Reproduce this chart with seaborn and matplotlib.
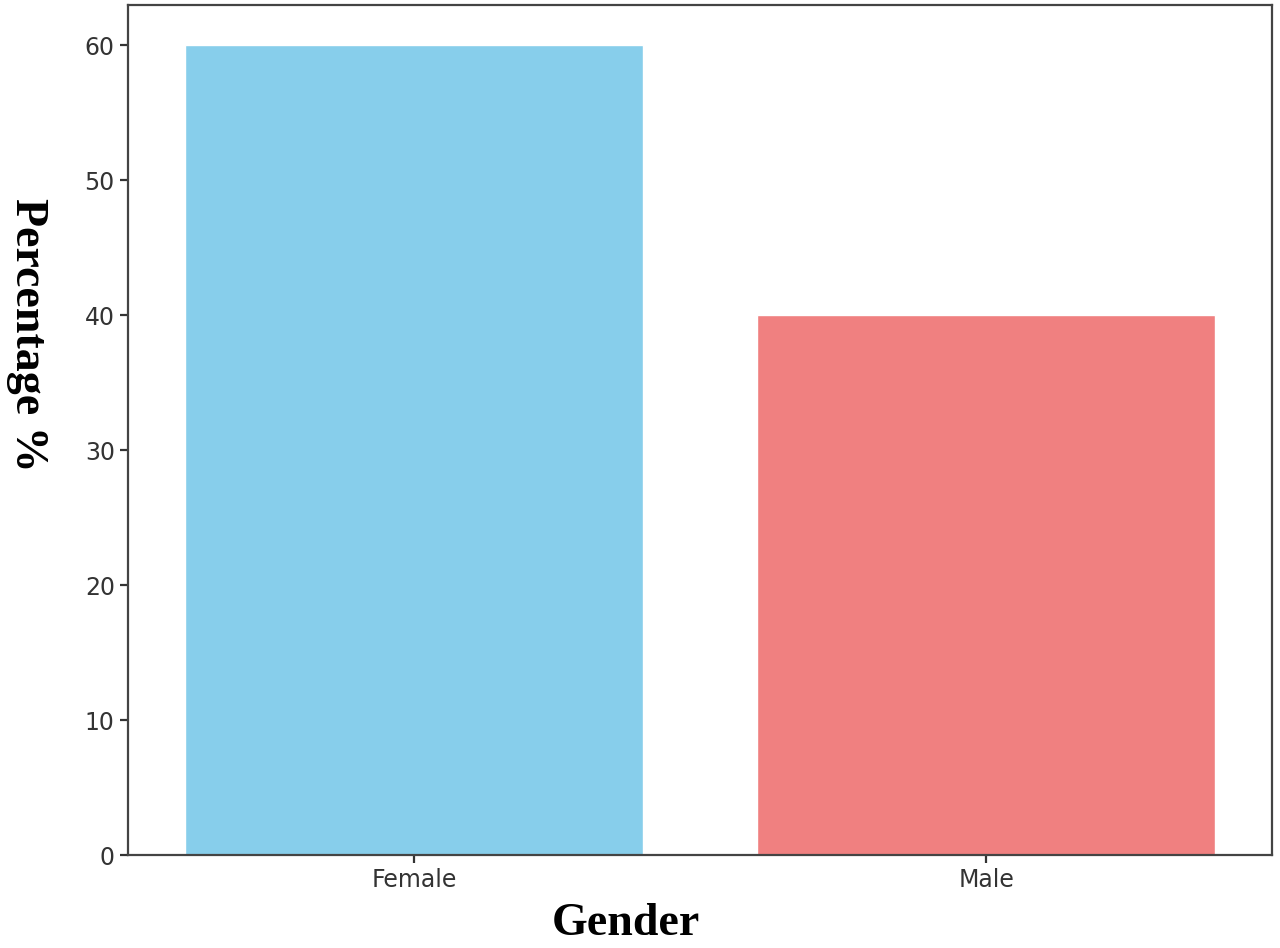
import matplotlib
matplotlib.use("Agg")
import matplotlib.pyplot as plt
import seaborn as sns
import pandas as pd

# data
genders = ["Female", "Male"]
percentages = [60, 40]
bar_colors = ["skyblue", "lightcoral"]

df = pd.DataFrame({"Gender": genders, "Percentage": percentages})

sns.set_style("ticks")
plt.rcParams["font.family"] = ["DejaVu Sans"]

fig = plt.figure(figsize=(12.8, 9.48), dpi=100)
ax = fig.add_axes([0.1, 0.098, 0.894, 0.897])

sns.barplot(data=df, x="Gender", y="Percentage", hue="Gender",
            palette=bar_colors, width=0.8, saturation=1, legend=False, ax=ax)

ax.set_xlim(-0.5, 1.5)
ax.set_ylim(0, 63)

for side in ["top", "right", "left", "bottom"]:
    ax.spines[side].set_visible(True)
    ax.spines[side].set_color("#444444")
    ax.spines[side].set_linewidth(1.6)

ax.tick_params(axis="both", labelsize=17, colors="#333333", length=6, width=1.6)

# axis labels (bold serif, y label reads top to bottom)
ax.set_xlabel("Gender", fontsize=33, fontweight="bold",
              family="Liberation Serif", color="black")
ax.xaxis.set_label_coords(0.435, -0.056)

ax.set_ylabel("Percentage %", fontsize=33, fontweight="bold",
              family="Liberation Serif", color="black")
ylab = ax.yaxis.label
ylab.set_rotation(270)
ylab.set_rotation_mode("default")
ylab.set_verticalalignment("center")
ylab.set_horizontalalignment("center")
ax.yaxis.set_label_coords(-0.088, 0.612)

fig.savefig("out.png", dpi=100)
